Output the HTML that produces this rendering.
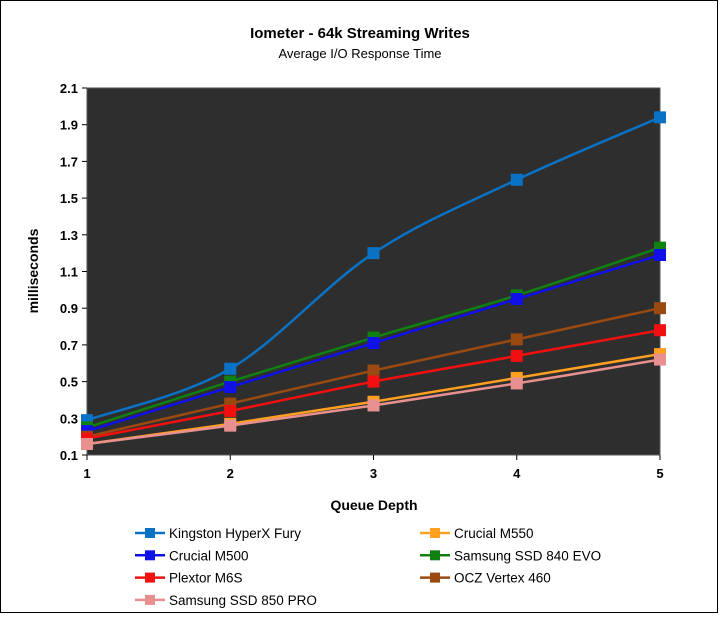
<!DOCTYPE html>
<html><head><meta charset="utf-8"><style>
body{margin:0;background:#fff;font-family:"Liberation Sans",sans-serif}
</style></head><body>
<svg width="720" height="614" xmlns="http://www.w3.org/2000/svg" font-family="Liberation Sans, sans-serif">
<rect x="0.5" y="0.5" width="717" height="612" fill="#fff" stroke="#000"/>
<text x="360" y="38" text-anchor="middle" font-size="15" font-weight="bold">Iometer - 64k Streaming Writes</text>
<text x="360" y="58" text-anchor="middle" font-size="13">Average I/O Response Time</text>
<rect x="87" y="88" width="573" height="367" fill="#2e2e2e" stroke="#555"/>
<g id="axes"></g>
<g id="series"></g>
<text x="374" y="510" text-anchor="middle" font-size="14" font-weight="bold">Queue Depth</text>
<text transform="translate(38,271) rotate(-90)" text-anchor="middle" font-size="14" font-weight="bold">milliseconds</text>
<g id="legend"></g>
</svg>
<script>
const categories=[1,2,3,4,5];
const yTicks=[0.1,0.3,0.5,0.7,0.9,1.1,1.3,1.5,1.7,1.9,2.1];
const names=["Kingston HyperX Fury","Crucial M550","Crucial M500","Samsung SSD 840 EVO","Plextor M6S","OCZ Vertex 460","Samsung SSD 850 PRO"];
const colors=["#0a72c4","#ffa020","#1010e8","#108010","#f01010","#9a4a10","#e89090"];
const kingston=[0.29,0.57,1.20,1.60,1.94];
const m550=[0.16,0.27,0.39,0.52,0.65];
const m500=[0.23,0.47,0.71,0.95,1.19];
const evo840=[0.25,0.50,0.74,0.97,1.23];
const plextor=[0.19,0.34,0.50,0.64,0.78];
const ocz=[0.20,0.38,0.56,0.73,0.90];
const pro850=[0.16,0.26,0.37,0.49,0.62];
const seriesData=[kingston,m550,m500,evo840,plextor,ocz,pro850];
const drawOrder=[0,3,2,5,4,1,6];
const NS="http://www.w3.org/2000/svg";
const X=v=>87+(v-1)*(573/4);
const Y=v=>455-(v-0.1)*(367/2);
function mk(t,a,p){const e=document.createElementNS(NS,t);for(const k in a)e.setAttribute(k,a[k]);p.appendChild(e);return e;}
const ax=document.getElementById('axes');
yTicks.forEach(t=>{
 mk('line',{x1:82,x2:87,y1:Y(t),y2:Y(t),stroke:'#000'},ax);
 const tx=mk('text',{x:78,y:Y(t)+5,'text-anchor':'end','font-size':13,'font-weight':'bold'},ax);
 tx.textContent=t.toFixed(1);
 
 
});
categories.forEach(c=>{
 mk('line',{x1:X(c),x2:X(c),y1:455,y2:460,stroke:'#000'},ax);
 const tx=mk('text',{x:X(c),y:478,'text-anchor':'middle','font-size':13,'font-weight':'bold'},ax);
 tx.textContent=c;
 
 
});
function smooth(pts){let d=`M${pts[0][0]},${pts[0][1]}`;for(let i=0;i<pts.length-1;i++){const p0=pts[i-1]||pts[i],p1=pts[i],p2=pts[i+1],p3=pts[i+2]||p2;const c1=[p1[0]+(p2[0]-p0[0])/6,p1[1]+(p2[1]-p0[1])/6],c2=[p2[0]-(p3[0]-p1[0])/6,p2[1]-(p3[1]-p1[1])/6];d+=` C${c1[0]},${c1[1]} ${c2[0]},${c2[1]} ${p2[0]},${p2[1]}`;}return d;}
const sg=document.getElementById('series');
drawOrder.forEach(i=>{
 const g=mk('g',{},sg);
 
 
 const pts=categories.map((c,j)=>[X(c),Y(seriesData[i][j])]);
 mk('path',{d:smooth(pts),fill:'none',stroke:colors[i],'stroke-width':2.5},g);
 pts.forEach(p=>{const r=mk('rect',{x:p[0]-6,y:p[1]-6,width:12,height:12,fill:colors[i]},g);
  
  });
});
const lg=document.getElementById('legend');
names.forEach((n,i)=>{
 const col=i%2,row=Math.floor(i/2);
 const lx=col?420:135, ly=533+row*22.3;
 const g=mk('g',{},lg);
 
 
 mk('line',{x1:lx,x2:lx+30,y1:ly,y2:ly,stroke:colors[i],'stroke-width':2.5},g);
 mk('rect',{x:lx+10,y:ly-5,width:10,height:10,fill:colors[i]},g);
 const t=mk('text',{x:lx+34,y:ly+5,'font-size':13.5},g);t.textContent=n;
});
</script>
</body></html>
